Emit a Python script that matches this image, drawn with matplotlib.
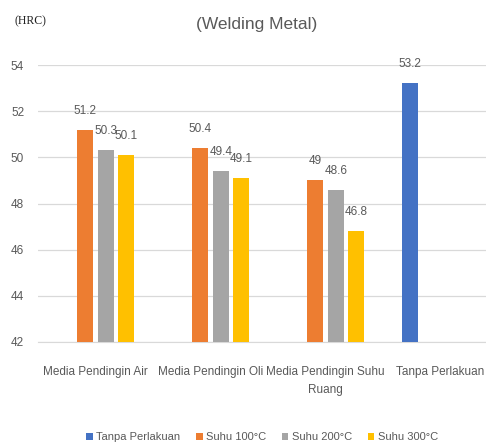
import numpy as np
import matplotlib
matplotlib.use("Agg")
import matplotlib.pyplot as plt

categories = ["Media Pendingin Air", "Media Pendingin Oli", "Media Pendingin Suhu\nRuang", "Tanpa Perlakuan"]
series_names = ["Tanpa Perlakuan", "Suhu 100°C", "Suhu 200°C", "Suhu 300°C"]
tanpa = [np.nan, np.nan, np.nan, 53.2]
suhu100 = [51.2, 50.4, 49.0, np.nan]
suhu200 = [50.3, 49.4, 48.6, np.nan]
suhu300 = [50.1, 49.1, 46.8, np.nan]
colors = ["#4472C4", "#ED7D31", "#A5A5A5", "#FFC000"]

font = ["Liberation Sans", "DejaVu Sans"]
txt = "#595959"

fig = plt.figure(figsize=(4.86, 4.47), dpi=100)
ax = fig.add_axes([38 / 486, 1 - 342 / 447, 460 / 486, (342 - 65) / 447])

x = np.arange(len(categories))
pitch = 0.178
width = 0.139
for i, (vals, name, c) in enumerate(zip([tanpa, suhu100, suhu200, suhu300], series_names, colors)):
    pos = x + (i - 1.5) * pitch
    ax.bar(pos, vals, width=width, color=c, label=name, zorder=3)
    for p, v in zip(pos, vals):
        if np.isnan(v):
            continue
        ax.annotate(f"{v:g}", (p, v), xytext=(0, 19), textcoords="offset pixels",
                    ha="center", va="center", fontsize=8.5, color=txt, family=font)

ax.set_ylim(42, 54)
ax.set_xlim(-0.5, 3.5)
ax.set_yticks(range(42, 55, 2))
ax.set_xticks(x)
ax.set_xticklabels(categories, fontsize=8.5, color=txt, family=font, linespacing=1.7)
ax.tick_params(axis="y", labelsize=8.5, labelcolor=txt, length=0, pad=10)
ax.tick_params(axis="x", length=0, pad=17)
for lab in ax.get_yticklabels():
    lab.set_family(font)
ax.grid(axis="y", color="#D9D9D9", linewidth=0.9, zorder=0)
for s in ["top", "right", "left"]:
    ax.spines[s].set_visible(False)
ax.spines["bottom"].set_color("#D9D9D9")

fig.text(257 / 486, 1 - 24 / 447, "(Welding Metal)", ha="center", va="center",
         fontsize=12.5, color=txt, family=font)
fig.text(14 / 486, 1 - 21 / 447, "(HRC)", ha="left", va="center",
         fontsize=8.5, color="#222222", family=["Liberation Serif", "DejaVu Serif"])

leg = fig.legend(loc="center", bbox_to_anchor=(262 / 486, 1 - 437 / 447), ncol=4,
                 frameon=False, handlelength=0.6, handleheight=0.6, handletextpad=0.3,
                 columnspacing=1.4, prop={"family": font, "size": 8})
for t in leg.get_texts():
    t.set_color(txt)

fig.savefig("out.png", dpi=100)
